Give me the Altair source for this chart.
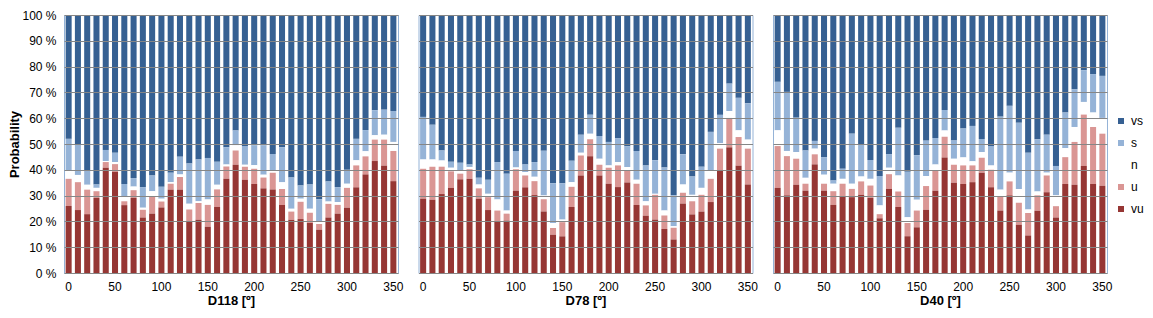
import altair as alt
import pandas as pd

angles = list(range(0, 360, 10))
categories = ["vs", "s", "n", "u", "vu"]
colors = ["#366092", "#95B3D7", "#FFFFFF", "#DA9694", "#963634"]
stack_rank = {"vu": 0, "u": 1, "n": 2, "s": 3, "vs": 4}
panels = ["D118", "D78", "D40"]

# D118 (values in %)
d118_vu = [26, 24.4, 22.8, 29.1, 40.8, 39.2, 26.3, 29.1, 21.5, 23, 25.4, 32.3, 32.3, 20, 20.6, 17.9, 25.6, 36.5,
           42, 36.1, 34.5, 32.8, 32.4, 26.4, 20.6, 20.9, 19.4, 16.8, 21.5, 23, 25.3, 33.2, 38.2, 43.4, 41.6, 35.6]
d118_u = [10.5, 10.8, 9.5, 2.6, 2.2, 3, 1.5, 3, 3, 6.7, 2.3, 2.3, 4.9, 4.6, 6.5, 8.5, 6.8, 4.8,
          5.5, 5.1, 5.9, 4.2, 6.5, 6.2, 3.2, 6.7, 4, 2.2, 5.3, 3.4, 7.7, 8.5, 7, 8.3, 10.1, 11.7]
d118_n = [3, 2.8, 1.9, 1.3, 0.4, 0.8, 1.6, 1.4, 0.8, 2, 1.1, 0.6, 1, 2.2, 0.7, 2.1, 1.8, 0.8,
          2, 0.8, 1.4, 1.1, 0.9, 2.6, 1.1, 1.2, 1.5, 1.1, 0.9, 1.1, 1.6, 2, 2, 1.7, 1.9, 3.5]
d118_s = [12.5, 12, 5.4, 1.3, 4.3, 3.6, 5.1, 3.3, 8, 6.1, 4.6, 3.7, 6.9, 15.6, 16.2, 16.1, 8.9, 6.6,
          5.7, 7.2, 7.7, 11.4, 6.3, 13.5, 12.1, 5.1, 9.4, 8.5, 7.8, 5.8, 5.4, 8.3, 8.2, 9.7, 9.7, 12]
d118_vs = [48, 50, 60.4, 65.7, 52.3, 53.4, 65.5, 63.2, 66.7, 62.2, 66.6, 61.1, 54.9, 57.6, 56, 55.4, 56.9, 51.3,
           44.8, 50.8, 50.5, 50.5, 53.9, 51.3, 63, 66.1, 65.7, 71.4, 64.5, 66.7, 60, 48, 44.6, 36.9, 36.7, 37.2]

# D78
d78_vu = [28.8, 28.4, 30.6, 33, 36.3, 36.5, 28.8, 24.4, 20, 20.3, 31.9, 33.2, 30.2, 23.8, 14.8, 14.2, 25.6, 37.8,
          45.3, 37.8, 34.6, 33.3, 35.1, 26.4, 22.2, 20.7, 17.1, 13, 26.9, 22.7, 23.8, 27.5, 39.6, 48.7, 41.6, 34.3]
d78_u = [11.6, 12.8, 10.6, 6.4, 2.2, 3.7, 4, 5, 4.2, 2.7, 8.3, 4.6, 5.4, 4.8, 2.6, 5.5, 7.8, 7.7,
         6.5, 4.2, 6.2, 8.4, 4.7, 8.2, 4, 9.6, 5.2, 4.5, 4.2, 5.1, 6.5, 9, 8.6, 11.4, 11.1, 13.9]
d78_n = [3.6, 2.8, 2.4, 1.4, 1, 0.9, 1.5, 1.3, 4.3, 1.2, 0.7, 1.3, 1.7, 1.4, 2, 1, 1.8, 1.1,
         2.2, 2.3, 0.9, 1.3, 1.3, 1.5, 1.6, 0.4, 1.9, 0.6, 3.2, 2.5, 2.7, 3.3, 2.1, 2.7, 2.6, 3.5]
d78_s = [16.5, 13.5, 3.9, 2.3, 3.2, 1, 2.6, 5.4, 14.5, 14.3, 6.4, 3, 5.7, 17.4, 15.4, 14.1, 8.3, 7,
         7.3, 8.8, 9.1, 9.3, 8, 11.2, 13.9, 13, 16.7, 12, 11.7, 7.1, 8.2, 14.9, 11, 10.6, 12.6, 14.1]
d78_vs = [39.5, 42.5, 52.5, 56.9, 57.3, 57.9, 63.1, 63.9, 57, 61.5, 52.7, 57.9, 57, 52.6, 65.2, 65.2, 56.5, 46.4,
          38.7, 46.9, 49.2, 47.7, 50.9, 52.7, 58.3, 56.3, 59.1, 69.9, 54, 62.6, 58.8, 45.3, 38.7, 26.6, 32.1, 34.2]

# D40
d40_vu = [33, 30.1, 34.2, 31.9, 42.1, 31.9, 26.4, 29.7, 29.4, 30.3, 29.1, 21.2, 32.6, 25.6, 14.2, 17.7, 24.5, 31.9,
          44.8, 35, 34.5, 35.2, 38.9, 33.2, 24.2, 30.1, 18.7, 14.5, 24.1, 31.3, 21.5, 34.5, 34.2, 41.5, 34.5, 33.8]
d40_u = [16.2, 15.2, 10.1, 2.7, 3.9, 2.7, 5.3, 4.9, 3.2, 5.2, 4.8, 1.6, 5.7, 6, 5.2, 6.5, 9.2, 7.6,
         8, 7, 7.2, 6.5, 5.8, 6.8, 5.5, 5.4, 8.5, 8.8, 6, 6.5, 4.4, 10.4, 16.6, 19.9, 22.1, 20.2]
d40_n = [6.1, 2, 2.6, 2.3, 2.2, 3.5, 2.9, 1.9, 2, 1.9, 2.6, 3.4, 2.5, 6.2, 2.2, 4.2, 3.9, 2.6,
         2.4, 2.3, 3.1, 1.6, 2.2, 1.7, 2.6, 3.4, 5.4, 1.3, 1.5, 1.1, 4.2, 3.5, 5.8, 4.9, 5.6, 6.1]
d40_s = [18.8, 22.9, 13.3, 10.6, 3, 6.8, 1.3, 3.9, 19.4, 12.5, 7.3, 11.4, 5.3, 18.5, 17.6, 17.3, 13.7, 10.2,
         8, 7.1, 11.2, 13.7, 5, 7.5, 28.3, 25.9, 25.6, 22, 20.2, 14.7, 11.4, 13.8, 14.6, 12.3, 14.9, 16.3]
d40_vs = [25.9, 29.8, 39.8, 52.5, 48.8, 55.1, 64.1, 59.6, 46, 50.1, 56.2, 62.4, 53.9, 43.7, 60.8, 54.3, 48.7, 47.7,
          36.8, 48.6, 44, 43, 48.1, 50.8, 39.4, 35.2, 41.8, 53.4, 48.2, 46.4, 58.5, 37.8, 28.8, 21.4, 22.9, 23.6]

series = {
    "D118": {"vu": d118_vu, "u": d118_u, "n": d118_n, "s": d118_s, "vs": d118_vs},
    "D78": {"vu": d78_vu, "u": d78_u, "n": d78_n, "s": d78_s, "vs": d78_vs},
    "D40": {"vu": d40_vu, "u": d40_u, "n": d40_n, "s": d40_s, "vs": d40_vs},
}

rows = []
for p in panels:
    for cat in categories:
        for a, v in zip(angles, series[p][cat]):
            rows.append({"panel": p, "angle": a, "cat": cat, "value": v, "rank": stack_rank[cat]})
df = pd.DataFrame(rows)

FONT = "Liberation Sans"


def panel_chart(p, first, last):
    y_axis = alt.Axis(
        values=[i / 10 for i in range(11)],
        labelExpr="format(datum.value * 100, 'd') + ' %'",
        labels=first,
        title="Probability" if first else None,
        grid=True, gridColor="#868686", gridWidth=1,
        ticks=False, domain=False, zindex=1,
        labelFont=FONT, labelFontSize=12, labelColor="#000000", labelPadding=8,
        titleFont=FONT, titleFontSize=13, titleFontWeight="bold", titleColor="#000000",
        titlePadding=0,
    )
    x_axis = alt.Axis(
        labelExpr="datum.value % 50 == 0 ? datum.label : ''",
        labelAngle=0, ticks=False, domain=False, grid=False, labelOverlap=False,
        labelFont=FONT, labelFontSize=12, labelColor="#000000", labelPadding=8,
        titleFont=FONT, titleFontSize=13, titleFontWeight="bold", titleColor="#000000",
        titlePadding=2,
    )
    legend = None
    if last:
        legend = alt.Legend(
            orient="none", legendX=342, legendY=100, title=None,
            symbolType="square", symbolSize=36, symbolStrokeWidth=0,
            labelFont=FONT, labelFontSize=12, labelColor="#000000",
            rowPadding=10, labelOffset=4, padding=0,
        )
    return alt.Chart(df[df.panel == p]).mark_bar().encode(
        x=alt.X("angle:O", title=f"{p} [º]", axis=x_axis,
                scale=alt.Scale(paddingInner=0.35, paddingOuter=0.175)),
        y=alt.Y("value:Q", stack="normalize", axis=y_axis, scale=alt.Scale(domain=[0, 1])),
        color=alt.Color("cat:N", scale=alt.Scale(domain=categories, range=colors), legend=legend),
        order=alt.Order("rank:Q", sort="ascending"),
    ).properties(width=334, height=258)


chart = alt.hconcat(
    panel_chart("D118", True, False),
    panel_chart("D78", False, False),
    panel_chart("D40", False, True),
    spacing=20.5, bounds="flush",
).resolve_legend(color="independent").properties(padding=0).configure_view(
    stroke="#95B3D7", strokeWidth=1)

chart.save("out.html", embed_options={"renderer": "svg", "actions": False})
